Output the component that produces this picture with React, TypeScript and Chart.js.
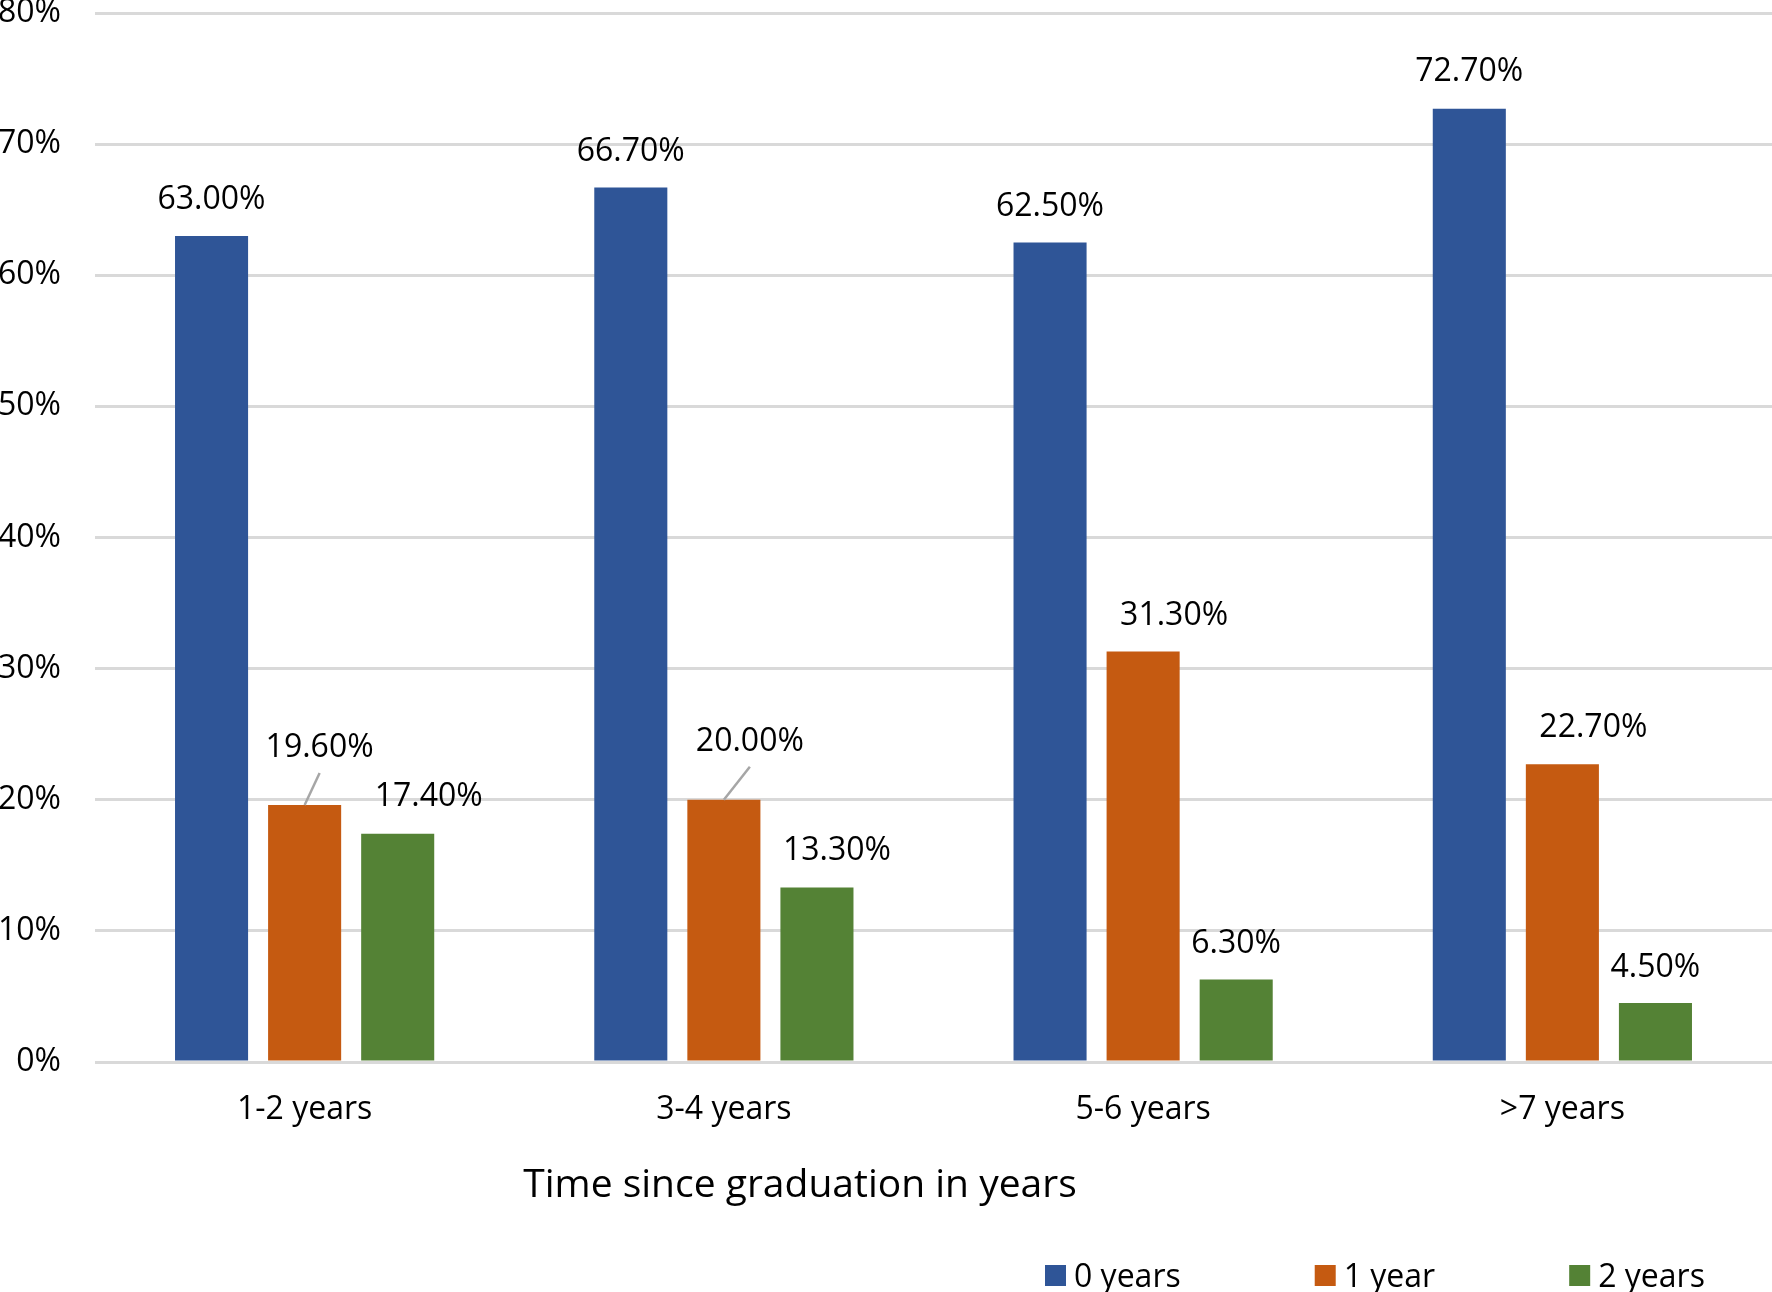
import React, { useEffect, useRef } from "react";
import { Chart, registerables } from "chart.js";

Chart.register(...registerables);

// ---- data ----
const categories = ["1-2 years", "3-4 years", "5-6 years", ">7 years"];
const seriesNames = ["0 years", "1 year", "2 years"];
const zeroYears = [63.0, 66.7, 62.5, 72.7];
const oneYear = [19.6, 20.0, 31.3, 22.7];
const twoYears = [17.4, 13.3, 6.3, 4.5];
const yTicks = [0, 10, 20, 30, 40, 50, 60, 70, 80];
const xAxisTitle = "Time since graduation in years";

// ---- styles ----
const COLORS = ["#2F5597", "#C55A11", "#548235"];
const FONT = "'Open Sans', 'Noto Sans', sans-serif";
// data label nudges in px: [dx, rise of label centre above bar top]
const LABEL_NUDGE = [
  [[0, 38], [0, 38], [0, 38], [0, 39]],
  [[15, 59], [26, 60], [31, 38], [31, 39]],
  [[31, 39], [20, 39], [0, 38], [0, 37]],
];
const LEADER = [
  [false, false, false, false],
  [true, true, false, false],
  [false, false, false, false],
];

const PAGE_W = 1772;
const PAGE_H = 1292;
const TOP_SHIFT = 50;
const CANVAS_W = PAGE_W;
const CANVAS_H = PAGE_H + TOP_SHIFT;
const PLOT_TOP = 13;
const PLOT_BOTTOM = 1062;

const labelsPlugin = {
  id: "customLabels",
  afterDatasetsDraw(chart: any) {
    const ctx = chart.ctx;
    ctx.save();
    ctx.font = `32px ${FONT}`;
    ctx.fillStyle = "#000";
    ctx.textAlign = "center";
    ctx.textBaseline = "alphabetic";
    chart.data.datasets.forEach((ds: any, di: number) => {
      const meta = chart.getDatasetMeta(di);
      meta.data.forEach((el: any, i: number) => {
        const [dx, rise] = LABEL_NUDGE[di][i];
        const cx = el.x + dx;
        const cy = el.y - rise;
        ctx.fillText(ds.data[i].toFixed(2) + "%", cx, cy + 11.5);
        if (LEADER[di][i]) {
          ctx.strokeStyle = "#A6A6A6";
          ctx.lineWidth = 2.5;
          ctx.beginPath();
          ctx.moveTo(el.x, el.y);
          ctx.lineTo(cx, cy + 27);
          ctx.stroke();
        }
      });
    });
    ctx.restore();
  },
  afterDraw(chart: any) {
    const ctx = chart.ctx;
    const area = chart.chartArea;
    ctx.save();
    // axis title
    ctx.font = `39px ${FONT}`;
    ctx.fillStyle = "#000";
    ctx.textAlign = "center";
    ctx.textBaseline = "alphabetic";
    ctx.fillText(xAxisTitle, 800, area.bottom + 135);
    // legend
    ctx.font = `32px ${FONT}`;
    ctx.textAlign = "left";
    const box = 21;
    const gapBoxText = 8;
    const gapItems = 134;
    let x = 1045;
    const boxTop = area.bottom + 203;
    chart.data.datasets.forEach((d: any) => {
      const w = ctx.measureText(d.label).width;
      ctx.fillStyle = d.backgroundColor;
      ctx.fillRect(x, boxTop, box, box);
      ctx.fillStyle = "#000";
      ctx.fillText(d.label, x + box + gapBoxText, boxTop + box / 2 + 11.5);
      x += box + gapBoxText + w + gapItems;
    });
    ctx.restore();
  },
};

export default function App() {
  const ref = useRef<HTMLCanvasElement | null>(null);

  useEffect(() => {
    if (!ref.current) return;
    const values = [zeroYears, oneYear, twoYears];
    const chart = new Chart(ref.current, {
      type: "bar",
      data: {
        labels: categories,
        datasets: seriesNames.map((name, i) => ({
          label: name,
          data: values[i],
          backgroundColor: COLORS[i],
          borderWidth: 0,
          barPercentage: 0.785,
          categoryPercentage: 0.666,
        })),
      },
      options: {
        animation: false,
        responsive: false,
        maintainAspectRatio: false,
        layout: { padding: { top: PLOT_TOP + TOP_SHIFT, left: 0, right: 0, bottom: 0 } },
        plugins: {
          legend: { display: false },
          tooltip: { enabled: false },
          title: { display: false },
        },
        scales: {
          x: {
            grid: { display: false },
            border: { display: false },
            ticks: {
              color: "#000",
              font: { family: FONT, size: 32 },
              padding: 21,
            },
            afterFit(scale: any) {
              scale.height = CANVAS_H - (PLOT_BOTTOM + TOP_SHIFT);
            },
          },
          y: {
            min: 0,
            max: 80,
            grid: { color: "#D9D9D9", lineWidth: 3, drawTicks: false },
            border: { display: false },
            ticks: {
              color: "#000",
              font: { family: FONT, size: 32 },
              padding: 34,
              callback: (v: any) => v + "%",
            },
            afterBuildTicks(scale: any) {
              scale.ticks = yTicks.map((v) => ({ value: v }));
            },
            afterFit(scale: any) {
              scale.width = 95;
            },
          },
        },
      },
      plugins: [labelsPlugin],
    });
    return () => chart.destroy();
  }, []);

  return (
    <div
      style={{
        position: "absolute",
        left: 0,
        top: -TOP_SHIFT,
        width: CANVAS_W,
        height: CANVAS_H,
        background: "#fff",
      }}
    >
      <canvas ref={ref} width={CANVAS_W} height={CANVAS_H} style={{ display: "block" }} />
    </div>
  );
}
